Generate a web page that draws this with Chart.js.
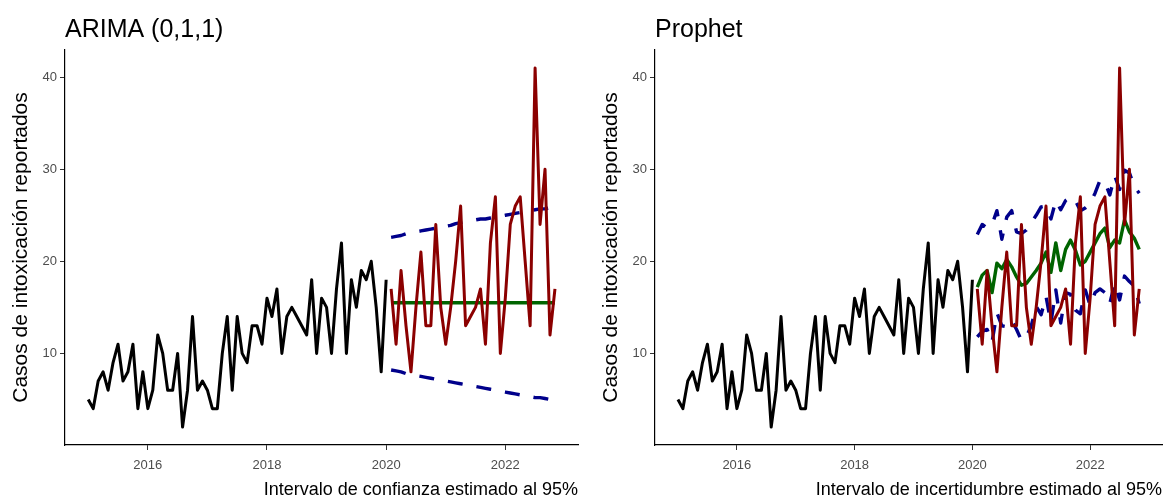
<!DOCTYPE html>
<html lang="es">
<head>
<meta charset="utf-8">
<title>Pronósticos de casos de intoxicación</title>
<script src="https://cdn.jsdelivr.net/npm/chart.js@4.4.1/dist/chart.umd.min.js"></script>
<style>
  html, body { margin: 0; padding: 0; background: #fff; }
  body { width: 1169px; height: 500px; position: relative; overflow: hidden; }
  .panel { position: absolute; top: 0; height: 500px; }
  #panel-arima { left: 0; width: 585px; }
  #panel-prophet { left: 590px; width: 579px; }
</style>
</head>
<body>
<div class="panel" id="panel-arima"><canvas id="chart-arima"></canvas></div>
<div class="panel" id="panel-prophet"><canvas id="chart-prophet"></canvas></div>
<script>
// Serie mensual: entrenamiento ene-2015..ene-2020, prueba feb-2020..nov-2022
const INICIO = 2015; // enero 2015

const observado = [5, 4, 7, 8, 6, 9, 11, 7, 8, 11, 4, 8, 4, 6, 12, 10, 6, 6, 10, 2,
  6, 14, 6, 7, 6, 4, 4, 10, 14, 6, 14, 10, 9, 13, 13, 11, 16, 14, 17, 10,
  14, 15, 14, 13, 12, 18, 10, 16, 15, 10, 17, 22, 10, 18, 15, 19, 18, 20, 15, 8, 18];

const prueba = [17, 11, 19, 13, 8, 15, 21, 13, 13, 24, 15, 11, 15, 20, 26, 13, 14, 15, 17, 11,
  22, 27, 10, 16, 24, 26, 27, 20, 13, 41, 24, 30, 12, 17];

// ARIMA (0,1,1): pronóstico plano e intervalo de confianza al 95%
const arimaMedia = [15.5, 15.5, 15.5, 15.5, 15.5, 15.5, 15.5, 15.5, 15.5, 15.5, 15.5, 15.5,
  15.5, 15.5, 15.5, 15.5, 15.5, 15.5, 15.5, 15.5, 15.5, 15.5, 15.5, 15.5,
  15.5, 15.5, 15.5, 15.5, 15.5, 15.5, 15.5, 15.5, 15.5, 15.5];
const arimaSup = [22.6, 22.7, 22.8, 23.0, 23.1, 23.2, 23.3, 23.4, 23.5, 23.6, 23.7, 23.8,
  23.9, 24.1, 24.2, 24.3, 24.4, 24.5, 24.6, 24.6, 24.7, 24.8, 24.9, 25.0,
  25.1, 25.2, 25.3, 25.4, 25.5, 25.6, 25.7, 25.7, 25.8, 25.9];
const arimaInf = [8.2, 8.1, 8.0, 7.8, 7.7, 7.6, 7.5, 7.4, 7.3, 7.2, 7.1, 7.0,
  6.9, 6.8, 6.7, 6.6, 6.5, 6.4, 6.3, 6.2, 6.1, 6.0, 5.9, 5.8,
  5.7, 5.6, 5.5, 5.4, 5.3, 5.2, 5.2, 5.1, 5.0, 4.9];

// Prophet: yhat e intervalo de incertidumbre al 95%
const prophetMedia = [17.2, 18.5, 19.0, 16.6, 19.8, 19.2, 20.2, 19.4, 18.3, 17.4, 17.6, 18.3,
  19.0, 19.8, 21.0, 18.8, 22.0, 19.0, 21.3, 22.3, 21.2, 19.6, 20.0, 21.0,
  22.0, 23.0, 23.6, 21.5, 22.3, 22.0, 24.5, 23.2, 22.5, 21.3];
const prophetSup = [22.9, 24.0, 23.6, 24.0, 25.5, 22.4, 24.8, 25.5, 23.2, 23.0, 23.4, 24.2,
  25.0, 25.9, 26.0, 24.6, 26.6, 25.6, 26.6, 27.0, 26.6, 25.5, 25.8, 26.3,
  27.4, 28.8, 28.6, 27.2, 29.3, 27.8, 29.9, 29.6, 28.1, 27.4];
const prophetInf = [11.8, 12.4, 12.6, 11.2, 14.4, 13.0, 12.9, 13.6, 12.6, 11.4, 11.8, 13.0,
  15.1, 14.2, 16.2, 13.3, 16.9, 13.3, 16.6, 16.4, 14.7, 14.3, 16.9, 15.2,
  16.6, 17.0, 16.6, 15.4, 17.6, 15.8, 18.4, 17.8, 17.3, 15.4];

const ticksAnios = [2016, 2018, 2020, 2022];
const ticksCasos = [10, 20, 30, 40];

const COLORS = {
  observado: "#000000",
  prueba: "#8b0000",
  media: "#006400",
  intervalo: "#00008b",
  eje: "#4d4d4d",
};
const FONT = "'Liberation Sans', Arial, sans-serif";

// convierte una lista mensual en puntos {x: año decimal, y}
const aPuntos = (vals, desde) => vals.map((v, i) => ({ x: INICIO + (desde + i) / 12, y: v }));

function linea(data, color, width, order, dash) {
  return {
    data,
    borderColor: color,
    borderWidth: width,
    borderDash: dash || [],
    borderJoinStyle: "round",
    pointRadius: 0,
    tension: 0,
    fill: false,
    order,
  };
}

function makeChart(canvasId, titulo, leyenda, media, inf, sup) {
  const n0 = observado.length;
  new Chart(document.getElementById(canvasId), {
    type: "line",
    data: {
      datasets: [
        linea(aPuntos(prueba, n0), COLORS.prueba, 3, 0),
        linea(aPuntos(observado, 0), COLORS.observado, 3, 1),
        linea(aPuntos(media, n0), COLORS.media, 3.4, 2),
        linea(aPuntos(sup, n0), COLORS.intervalo, 3.4, 3, [15, 14]),
        linea(aPuntos(inf, n0), COLORS.intervalo, 3.4, 4, [15, 14]),
      ],
    },
    options: {
      responsive: true,
      maintainAspectRatio: false,
      animation: false,
      layout: { padding: { left: 0, right: 7, top: 0, bottom: 0 } },
      plugins: {
        legend: { display: false },
        tooltip: { enabled: false },
        title: {
          display: true,
          text: titulo,
          align: "start",
          fullSize: false,
          color: "#000",
          font: { family: FONT, size: 25, weight: "normal" },
          padding: { top: 15, bottom: 5 },
        },
      },
      scales: {
        x: {
          type: "linear",
          min: 2014.61,
          max: 2023.22,
          afterFit: (s) => { s.height = 55; },
          afterBuildTicks: (s) => { s.ticks = ticksAnios.map((v) => ({ value: v })); },
          ticks: {
            color: COLORS.eje,
            font: { family: FONT, size: 13 },
            padding: 8,
            maxRotation: 0,
            autoSkip: false,
            callback: (v) => String(v),
          },
          grid: { display: true, drawOnChartArea: false, drawTicks: true, tickLength: 5, color: "#333333" },
          border: { display: true, color: "#000", width: 1.2 },
          title: {
            display: true,
            text: leyenda,
            align: "end",
            color: "#000",
            font: { family: FONT, size: 18 },
            padding: { top: 0, bottom: -1 },
          },
        },
        y: {
          min: 0.05,
          max: 42.95,
          afterFit: (s) => { s.width = 65; },
          afterBuildTicks: (s) => { s.ticks = ticksCasos.map((v) => ({ value: v })); },
          ticks: {
            color: COLORS.eje,
            font: { family: FONT, size: 13 },
            padding: 3,
            autoSkip: false,
            callback: (v) => String(v),
          },
          grid: { display: true, drawOnChartArea: false, drawTicks: true, tickLength: 5, color: "#333333" },
          border: { display: true, color: "#000", width: 1.2 },
          title: {
            display: true,
            text: "Casos de intoxicación reportados",
            color: "#000",
            font: { family: FONT, size: 21 },
            padding: { top: 9, bottom: 0 },
          },
        },
      },
    },
  });
}

makeChart("chart-arima", "ARIMA (0,1,1)", "Intervalo de confianza estimado al 95%", arimaMedia, arimaInf, arimaSup);
makeChart("chart-prophet", "Prophet", "Intervalo de incertidumbre estimado al 95%", prophetMedia, prophetInf, prophetSup);
</script>
</body>
</html>
